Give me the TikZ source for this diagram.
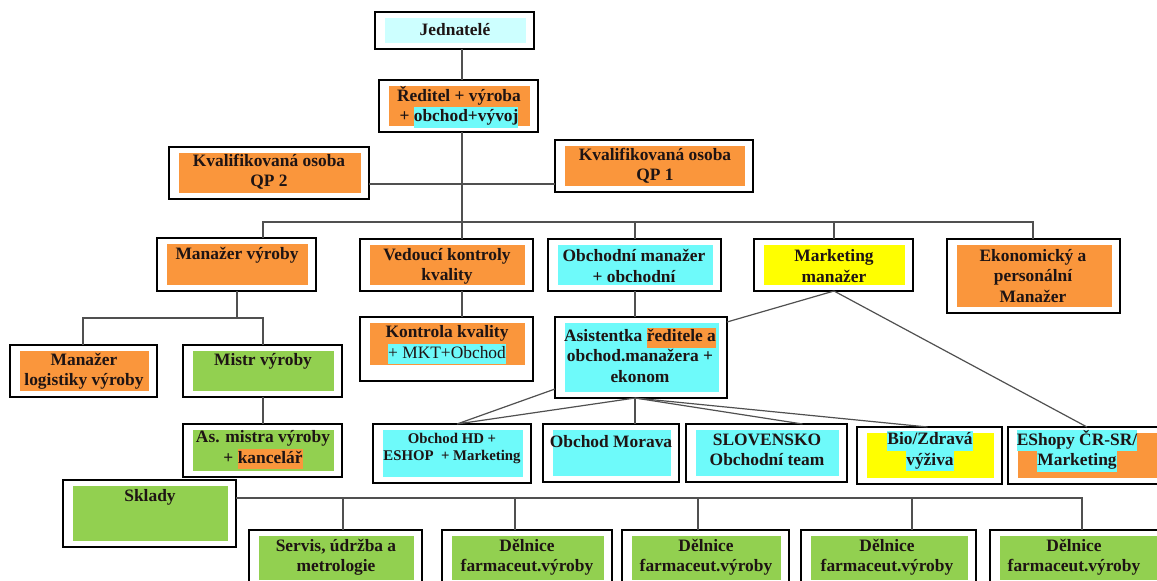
\documentclass[tikz,border=0pt]{standalone}
\usepackage{fontspec}
\setmainfont{Liberation Serif}
\usetikzlibrary{calc}

\definecolor{orgOrange}{RGB}{250,150,60}
\definecolor{orgCyan}{RGB}{110,250,250}
\definecolor{orgPale}{RGB}{205,255,255}
\definecolor{orgGreen}{RGB}{146,208,80}
\definecolor{orgYellow}{RGB}{255,255,0}
\definecolor{orgLine}{RGB}{80,80,80}
\definecolor{orgText}{RGB}{30,20,20}

% highlighted run of text inside a box
\newcommand\hlbox[2]{{\setlength{\fboxsep}{0pt}\colorbox{#1}{\strut#2}}}

\tikzset{
  frame/.style={draw=black, line width=1.2pt, fill=white, inner sep=0pt, outer sep=0pt},
  boxtext/.style={align=center, font=\fontsize{17.4}{20.2}\selectfont\bfseries, text=orgText, inner sep=0pt},
  smalltext/.style={boxtext, font=\fontsize{14.8}{17}\selectfont\bfseries},
  link/.style={draw=orgLine, line width=1.2pt},
}

% framed box with an inset coloured panel:
% [bottom inset] name, left, top, right, bottom, panel colour
\newcommand\orgbox[7][6]{%
  \node[frame, minimum width={#5-#3}, minimum height={#6-#4}] (#2) at ({(#3+#5)/2},{(#4+#6)/2}) {};
  \fill[#7] ({#3+9.5},{#4+6}) rectangle ({#5-8.5},{#6-#1});
}

\begin{document}
\begin{tikzpicture}[x=1pt,y=-1pt]
\useasboundingbox (0,0) rectangle (1157,581);
\clip (0,0) rectangle (1157,581);

% ---- boxes ----
\orgbox{jed}{375}{12}{534}{49}{orgPale}
\orgbox{red}{379}{80}{538}{132}{orgOrange}
\orgbox{qpB}{169}{147}{369}{199}{orgOrange}
\orgbox{qpA}{555}{140}{753}{192}{orgOrange}
\orgbox{manv}{157}{238}{316}{291}{orgOrange}
\orgbox{ved}{360}{239}{533}{291}{orgOrange}
\orgbox{obm}{548}{239}{721}{291}{orgCyan}
\orgbox{mkt}{754}{239}{913}{291}{orgYellow}
\orgbox{eko}{947}{239}{1120}{313}{orgOrange}
\orgbox{log}{10}{345}{157}{397}{orgOrange}
\orgbox{mistr}{183}{345}{342}{397}{orgGreen}
\orgbox[16]{kk}{360}{317}{533}{381}{orgOrange}
\orgbox{asi}{555}{317}{727}{398}{orgCyan}
\orgbox{asm}{183}{424}{342}{477}{orgGreen}
\orgbox{hd}{373}{424}{531}{483}{orgCyan}
\orgbox{mor}{543}{424}{679}{482}{orgCyan}
\orgbox{svk}{686}{424}{847}{482}{orgCyan}
\orgbox{bio}{857}{427}{1002}{484}{orgYellow}
\orgbox{esh}{1008}{427}{1166}{484}{orgOrange}
\orgbox{skl}{63}{480}{236}{547}{orgGreen}
\orgbox{ser}{249}{530}{422}{586}{orgGreen}
\orgbox{dA}{442}{530}{612}{586}{orgGreen}
\orgbox{dB}{622}{530}{789}{586}{orgGreen}
\orgbox{dC}{801}{530}{976}{586}{orgGreen}
\orgbox{dD}{990}{530}{1166}{586}{orgGreen}

% ---- texts ----
\node[boxtext] (jedT) at (455,30) {Jednatelé};
\node[boxtext] (redT) at (459,107) {Ředitel + výroba\\+ \hlbox{orgCyan}{obchod+vývoj}};
\node[boxtext] (qpBT) at (269,172) {Kvalifikovaná osoba\\QP 2};
\node[boxtext] (qpAT) at (655,166) {Kvalifikovaná osoba\\QP 1};
\node[boxtext] (manvT) at (237,255) {Manažer výroby};
\node[boxtext] (vedT) at (447,266) {Vedoucí kontroly\\kvality};
\node[boxtext] (obmT) at (634,266) {Obchodní manažer\\+ obchodní};
\node[boxtext] (mktT) at (834,266) {Marketing\\manažer};
\node[boxtext] (ekoT) at (1033,276) {Ekonomický a\\personální\\Manažer};
\node[boxtext] (logT) at (84,371) {Manažer\\logistiky výroby};
\node[boxtext] (mistrT) at (263,361) {Mistr výroby};
\node[boxtext] (kkT) at (447,345) {Kontrola kvality\\\hlbox{orgCyan}{\mdseries + MKT+Obchod}};
\node[boxtext] (asiT) at (640,355) {Asistentka \hlbox{orgOrange}{ředitele a}\\obchod.manažera +\\ekonom};
\node[boxtext] (asmT) at (263,450) {As. mistra výroby\\+ \hlbox{orgOrange}{kancelář}};
\node[smalltext] (hdT) at (452,448) {Obchod HD +\\ESHOP\ \ + Marketing};
\node[boxtext] (morT) at (611,442) {Obchod Morava};
\node[boxtext] (svkT) at (767,450) {SLOVENSKO\\Obchodní team};
\node[boxtext] (bioT) at (930,451) {\hlbox{orgCyan}{Bio/Zdravá}\\\hlbox{orgCyan}{výživa}};
\node[boxtext] (eshT) at (1077,451) {\hlbox{orgCyan}{EShopy ČR-SR/}\\\hlbox{orgCyan}{Marketing}};
\node[boxtext] (sklT) at (150,497) {Sklady};
\node[boxtext] (serT) at (336,557) {Servis, údržba a\\metrologie};
\node[boxtext] (dAT) at (527,557) {Dělnice\\farmaceut.výroby};
\node[boxtext] (dBT) at (706,557) {Dělnice\\farmaceut.výroby};
\node[boxtext] (dCT) at (887,557) {Dělnice\\farmaceut.výroby};
\node[boxtext] (dDT) at (1074,557) {Dělnice\\farmaceut.výroby};

% ---- connector junctions ----
\coordinate (b1) at (263,222);
\coordinate (b2) at (462,222);
\coordinate (b3) at (635,222);
\coordinate (b4) at (834,222);
\coordinate (b5) at (1033,222);
\coordinate (q) at (462,184);
\coordinate (m0) at (83,318);
\coordinate (m1) at (237,318);
\coordinate (k1) at (343,498);
\coordinate (k2) at (515,498);
\coordinate (k3) at (698,498);
\coordinate (k4) at (912,498);
\coordinate (k5) at (1082,498);

% ---- connectors ----
\draw[link] (b2 |- jed.south) -- (b2 |- red.north);
\draw[link] (b2 |- red.south) -- (b2);
\draw[link] (q -| qpB.east) -- (q -| qpA.west);
\draw[link] (b1 |- manv.north) -- (b1) -- (b5) -- (b5 |- eko.north);
\draw[link] (b2) -- (b2 |- ved.north);
\draw[link] (b3) -- (b3 |- obm.north);
\draw[link] (b4) -- (b4 |- mkt.north);

\draw[link] (m1 |- manv.south) -- (m1);
\draw[link] (m0 |- log.north) -- (m0) -- (b1 |- m0) -- (b1 |- mistr.north);
\draw[link] (b1 |- mistr.south) -- (b1 |- asm.north);
\draw[link] (b2 |- ved.south) -- (b2 |- kk.north);
\draw[link] (b3 |- obm.south) -- (b3 |- asi.north);

\draw[link] (b4 |- mkt.south) -- ($(asi.north east)+(0,5)$);
\draw[link] (b4 |- mkt.south) -- ($(esh.north west)+(79,0)$);

\coordinate (ab) at (b3 |- asi.south);
\draw[link] ($(asi.south west)+(0,-9)$) -- ($(hd.north)+(5,0)$) -- (ab);
\draw[link] (ab) -- (b3 |- mor.north);
\draw[link] (ab) -- ($(svk.north)+(36,0)$);
\draw[link] (ab) -- ($(bio.north)+(-2,0)$);

\draw[link] (k1 -| skl.east) -- (k5) -- (k5 |- dD.north);
\draw[link] (k1) -- (k1 |- ser.north);
\draw[link] (k2) -- (k2 |- dA.north);
\draw[link] (k3) -- (k3 |- dB.north);
\draw[link] (k4) -- (k4 |- dC.north);
\end{tikzpicture}
\end{document}
